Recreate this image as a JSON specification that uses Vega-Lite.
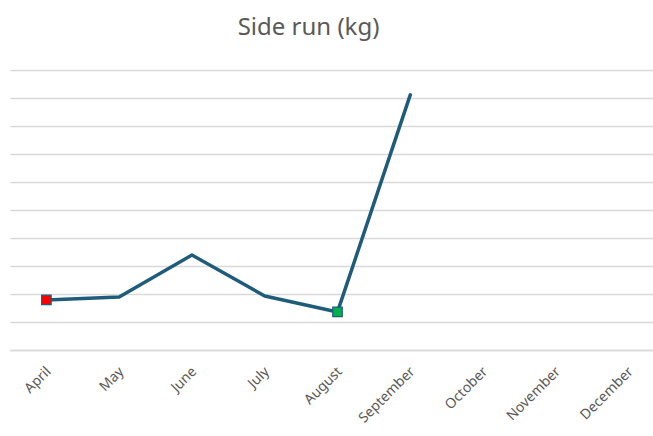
{
  "$schema": "https://vega.github.io/schema/vega-lite/v6.json",
  "autosize": "none",
  "width": 655,
  "height": 280,
  "padding": {"left": 10, "top": 70, "right": 0, "bottom": 86},
  "background": "white",
  "title": {
    "text": "Side run (kg)",
    "fontSize": 24,
    "font": "Noto Sans",
    "fontWeight": "normal",
    "color": "#595959",
    "anchor": "middle",
    "dx": -29,
    "offset": 30
  },
  "config": {
    "view": {"stroke": null},
    "axis": {"labelFont": "Noto Sans", "labelColor": "#595959", "labelFontSize": 14}
  },
  "data": {
    "values": [
      {"month": "April", "value": 1.79, "flag": "first"},
      {"month": "May", "value": 1.89, "flag": null},
      {"month": "June", "value": 3.39, "flag": null},
      {"month": "July", "value": 1.93, "flag": null},
      {"month": "August", "value": 1.36, "flag": "min"},
      {"month": "September", "value": 9.11, "flag": null},
      {"month": "October", "value": null, "flag": null},
      {"month": "November", "value": null, "flag": null},
      {"month": "December", "value": null, "flag": null}
    ]
  },
  "encoding": {
    "x": {
      "field": "month",
      "type": "nominal",
      "sort": null,
      "scale": {"type": "point", "padding": 0.5},
      "axis": {
        "title": null,
        "labelAngle": -45,
        "labelAlign": "right",
        "labelBaseline": "middle",
        "ticks": false,
        "domain": true,
        "domainColor": "#d9d9d9",
        "domainWidth": 1.5,
        "labelPadding": 19,
        "labelOffset": 2,
        "grid": false
      }
    },
    "y": {
      "field": "value",
      "type": "quantitative",
      "scale": {"domain": [0, 10], "nice": false},
      "axis": {
        "title": null,
        "labels": false,
        "ticks": false,
        "domain": false,
        "values": [0, 1, 2, 3, 4, 5, 6, 7, 8, 9, 10],
        "gridColor": "#d9d9d9",
        "gridWidth": 1.5
      }
    }
  },
  "layer": [
    {
      "mark": {"type": "line", "color": "#1f5c7a", "strokeWidth": 3.5, "strokeCap": "round", "strokeJoin": "round"}
    },
    {
      "transform": [{"filter": "datum.flag != null"}],
      "mark": {"type": "point", "shape": "square", "filled": true, "size": 90, "stroke": "#1f5c7a", "strokeWidth": 1.2, "opacity": 1},
      "encoding": {
        "fill": {
          "field": "flag",
          "type": "nominal",
          "scale": {"domain": ["first", "min"], "range": ["#ff0000", "#00b050"]},
          "legend": null
        }
      }
    }
  ]
}
